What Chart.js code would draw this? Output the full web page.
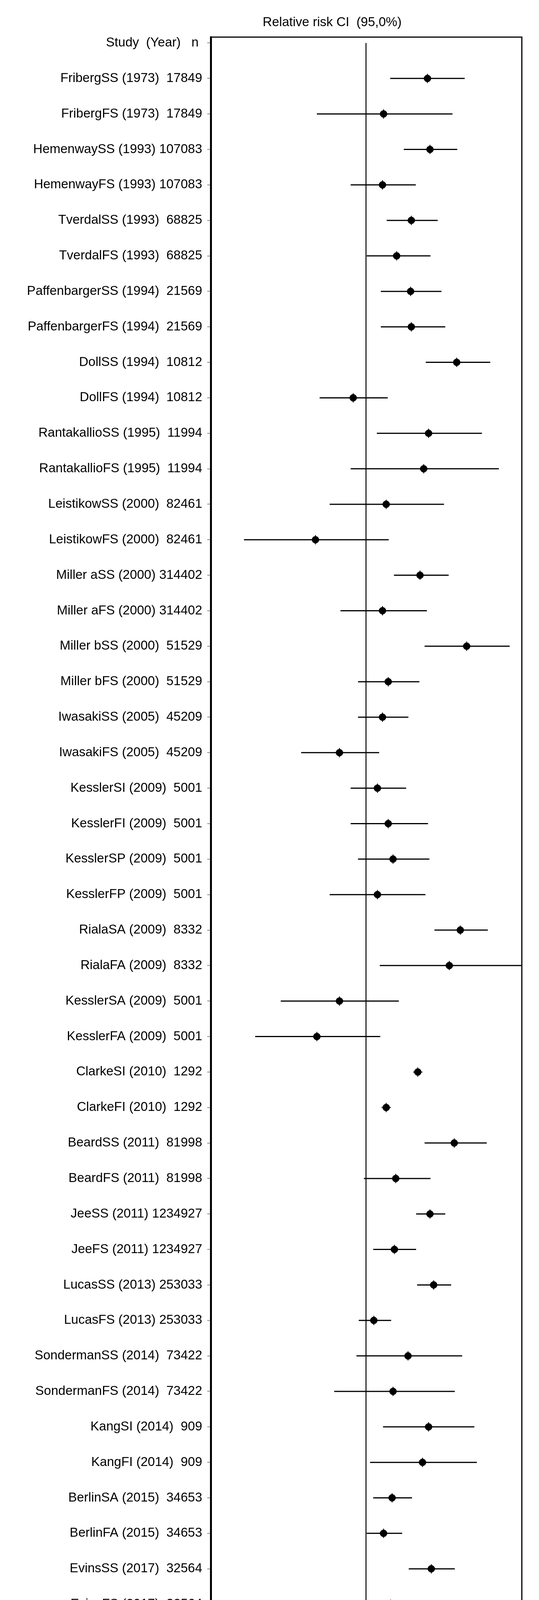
<!DOCTYPE html>
<html>
<head>
<meta charset="utf-8">
<script src="https://cdn.jsdelivr.net/npm/chart.js@4.4.1/dist/chart.umd.min.js"></script>
<style>
  html, body { margin: 0; padding: 0; background: #fff; overflow: hidden; }
  #wrap { width: 1381px; height: 4576px; }
  #c { display: block; }
</style>
</head>
<body>
<div id="wrap"><canvas id="c" width="1381" height="4576"></canvas></div>
<script>
// ---------- DATA ----------
const headerLabel = 'Study  (Year)   n ';
const studyNames = ['FribergSS','FribergFS','HemenwaySS','HemenwayFS','TverdalSS','TverdalFS',
  'PaffenbargerSS','PaffenbargerFS','DollSS','DollFS','RantakallioSS','RantakallioFS',
  'LeistikowSS','LeistikowFS','Miller aSS','Miller aFS','Miller bSS','Miller bFS',
  'IwasakiSS','IwasakiFS','KesslerSI','KesslerFI','KesslerSP','KesslerFP',
  'RialaSA','RialaFA','KesslerSA','KesslerFA','ClarkeSI','ClarkeFI',
  'BeardSS','BeardFS','JeeSS','JeeFS','LucasSS','LucasFS',
  'SondermanSS','SondermanFS','KangSI','KangFI','BerlinSA','BerlinFA','EvinsSS','EvinsFS'];
const studyYears = [1973,1973,1993,1993,1993,1993,1994,1994,1994,1994,1995,1995,
  2000,2000,2000,2000,2000,2000,2005,2005,2009,2009,2009,2009,2009,2009,2009,2009,
  2010,2010,2011,2011,2011,2011,2013,2013,2014,2014,2014,2014,2015,2015,2017,2017];
const studyN = ['17849','17849','107083','107083','68825','68825','21569','21569','10812','10812',
  '11994','11994','82461','82461','314402','314402','51529','51529','45209','45209',
  '5001','5001','5001','5001','8332','8332','5001','5001','1292','1292',
  '81998','81998','1234927','1234927','253033','253033','73422','73422','909','909',
  '34653','34653','32564','32564'];
const rr = [2.44,1.29,2.53,1.27,1.93,1.56,1.91,1.93,3.73,0.83,2.48,2.31,1.34,0.48,2.19,1.27,
  4.31,1.38,1.27,0.68,1.18,1.38,1.48,1.18,3.93,3.35,0.68,0.49,2.12,1.34,3.60,1.54,2.53,1.51,
  2.67,1.12,1.84,1.48,2.48,2.27,1.46,1.29,2.58,1.43];
const ciLow = [1.42,0.49,1.73,0.80,1.35,1.01,1.24,1.24,2.38,0.51,1.17,0.80,0.59,0.17,1.50,0.69,
  2.34,0.89,0.89,0.39,0.80,0.80,0.89,0.59,2.70,1.22,0.29,0.20,2.12,1.34,2.34,0.97,2.07,1.11,
  2.10,0.90,0.87,0.63,1.28,1.06,1.11,1.01,1.86,0.95];
const ciHigh = [4.19,3.51,3.76,2.06,2.83,2.55,2.99,3.16,6.07,1.37,5.38,6.88,3.10,1.39,3.32,2.42,
  8.05,2.17,1.85,1.21,1.79,2.46,2.51,2.37,5.86,12.0,1.61,1.23,2.12,1.34,5.77,2.55,3.16,2.07,
  3.44,1.44,4.04,3.63,4.82,5.00,1.95,1.69,3.63,2.25];
const globalLabels = ['GLOBAL (Fixed Eff.) 4935732','GLOBAL (Random Eff.) 4935732'];
const globalRR = [1.71, 1.70];
const globalLow = [1.67, 1.51];
const globalHigh = [1.75, 1.93];
const pooledText = '1.74';
const xTickValues = [1,2,3,4,5,6,7,8,9];
const nullValue = 1;
const axisHighlight = [0.83, 5.4];
const titleText = 'Relative risk CI  (95,0%)';

// ---------- BUILD ----------
const FONT = "'Liberation Sans', Arial, sans-serif";
const nStudies = studyNames.length;
const studyRow = i => i + 1;
const globalRow = j => nStudies + 2 + j;
const rowPos = [0];
const rowLabels = [headerLabel];
for (let i = 0; i < nStudies; i++) {
  rowPos.push(studyRow(i));
  const sep = studyN[i].length >= 6 ? ' ' : '  ';
  rowLabels.push(studyNames[i] + ' (' + studyYears[i] + ')' + sep + studyN[i]);
}
for (let j = 0; j < globalLabels.length; j++) { rowPos.push(globalRow(j)); rowLabels.push(globalLabels[j]); }

const ciData = [];
for (let i = 0; i < nStudies; i++) {
  ciData.push({x: ciLow[i], y: studyRow(i)}, {x: ciHigh[i], y: studyRow(i)}, {x: ciHigh[i], y: null});
}
const gCiData = [];
for (let j = 0; j < globalRR.length; j++) {
  gCiData.push({x: globalLow[j], y: globalRow(j)}, {x: globalHigh[j], y: globalRow(j)}, {x: globalHigh[j], y: null});
}
const ptData = rr.map((v, i) => ({x: v, y: studyRow(i)}));
const gPtData = globalRR.map((v, j) => ({x: v, y: globalRow(j)}));
const lastRow = globalRow(globalRR.length - 1);
const refData = [{x: nullValue, y: 0}, {x: nullValue, y: lastRow - 0.16}];
const refData2 = [{x: nullValue, y: lastRow - 0.1}, {x: nullValue, y: lastRow + 0.95}];

const decor = {
  id: 'decor',
  afterDraw(chart) {
    const {ctx, chartArea: a, scales: {x}} = chart;
    ctx.save();
    ctx.fillStyle = '#000';
    ctx.font = '33px ' + FONT;
    ctx.textAlign = 'center';
    ctx.textBaseline = 'middle';
    ctx.fillText(titleText, 851, 58);
    ctx.strokeStyle = '#000';
    ctx.lineWidth = 3;
    ctx.beginPath();
    ctx.moveTo(a.left, a.top); ctx.lineTo(a.right, a.top); ctx.lineTo(a.right, a.bottom);
    ctx.stroke();
    const x0 = x.getPixelForValue(axisHighlight[0]);
    const x1 = x.getPixelForValue(axisHighlight[1]);
    ctx.fillStyle = '#7f7f7f';
    ctx.fillRect(x0, a.bottom - 7, x1 - x0, 9);
    ctx.fillStyle = '#000';
    ctx.font = '82px "Liberation Serif", "Times New Roman", serif';
    ctx.textAlign = 'left';
    ctx.textBaseline = 'alphabetic';
    ctx.fillText(pooledText, 972, a.bottom - 11);
    ctx.restore();
  }
};

new Chart(document.getElementById('c'), {
  type: 'scatter',
  data: {
    datasets: [
      {data: ptData, pointStyle: 'circle', pointRadius: 9, pointBackgroundColor: '#000', pointBorderColor: '#000', pointBorderWidth: 1, showLine: false, order: 1},
      {data: ptData, pointStyle: 'cross', pointRadius: 12, pointBorderColor: '#000', pointBorderWidth: 2, showLine: false, order: 2},
      {data: gPtData, pointStyle: 'circle', pointRadius: 9, pointBackgroundColor: '#ff0000', pointBorderColor: '#ff0000', pointBorderWidth: 1, showLine: false, order: 0},
      {data: gPtData, pointStyle: 'cross', pointRadius: 12, pointBorderColor: '#ff0000', pointBorderWidth: 2, showLine: false, order: 0},
      {data: ciData, showLine: true, spanGaps: false, borderColor: '#000', borderWidth: 3, pointRadius: 0, order: 5},
      {data: gCiData, showLine: true, spanGaps: false, borderColor: '#ff0000', borderWidth: 3, pointRadius: 0, order: 4},
      {data: refData, showLine: true, borderColor: '#000', borderWidth: 2.5, pointRadius: 0, order: 6},
      {data: refData2, showLine: true, borderColor: '#333', borderWidth: 2, pointRadius: 0, order: 6}
    ]
  },
  options: {
    responsive: false,
    animation: false,
    devicePixelRatio: 1,
    events: [],
    layout: {padding: {top: 95, right: 44, left: 0, bottom: 0}},
    plugins: {legend: {display: false}, tooltip: {enabled: false}, title: {display: false}},
    scales: {
      x: {
        type: 'logarithmic', min: 0.105, max: 9.6, position: 'bottom',
        afterBuildTicks: s => { s.ticks = xTickValues.map(v => ({value: v})); },
        afterFit: s => { s.height = 92; },
        ticks: {callback: v => String(v), color: '#000', font: {family: FONT, size: 33}, padding: 8, autoSkip: false, maxRotation: 0},
        grid: {drawOnChartArea: false, drawTicks: true, tickLength: 10, tickColor: '#888', tickWidth: 2},
        border: {display: true, color: '#000', width: 5}
      },
      y: {
        type: 'linear', reverse: true, min: -0.165, max: 48.15,
        afterBuildTicks: s => { s.ticks = rowPos.map(v => ({value: v})); },
        afterFit: s => { s.width = 540; },
        ticks: {callback: (v, i) => rowLabels[i], color: '#000', font: {family: FONT, size: 33}, padding: 13, autoSkip: false},
        grid: {drawOnChartArea: false, drawTicks: true, tickLength: 9, tickColor: '#888', tickWidth: 2},
        border: {display: true, color: '#000', width: 5}
      }
    }
  },
  plugins: [decor]
});
</script>
</body>
</html>
